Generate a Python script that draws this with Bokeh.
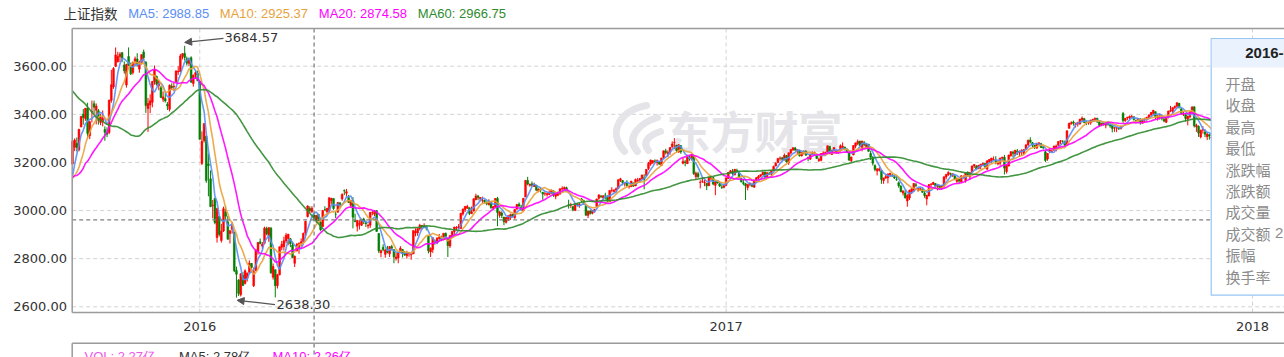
import numpy as np
import pandas as pd
from bokeh.plotting import figure
from bokeh.models import Range1d, Arrow, NormalHead, ColumnDataSource
from bokeh.core.properties import value
from bokeh.embed import file_html
from bokeh.resources import INLINE

# ---------------- data ----------------
trade_days = {
    "2015-10": [12, 13, 14, 15, 16, 19, 20, 21, 22, 23, 26, 27, 28, 29, 30],
    "2015-11": [2, 3, 4, 5, 6, 9, 10, 11, 12, 13, 16, 17, 18, 19, 20, 23, 24, 25, 26, 27, 30],
    "2015-12": [1, 2, 3, 4, 7, 8, 9, 10, 11, 14, 15, 16, 17, 18, 21, 22, 23, 24, 25, 28, 29, 30, 31],
    "2016-01": [4, 5, 6, 7, 8, 11, 12, 13, 14, 15, 18, 19, 20, 21, 22, 25, 26, 27, 28, 29],
    "2016-02": [1, 2, 3, 4, 5, 15, 16, 17, 18, 19, 22, 23, 24, 25, 26, 29],
    "2016-03": [1, 2, 3, 4, 7, 8, 9, 10, 11, 14, 15, 16, 17, 18, 21, 22, 23, 24, 25, 28, 29, 30, 31],
    "2016-04": [1, 5, 6, 7, 8, 11, 12, 13, 14, 15, 18, 19, 20, 21, 22, 25, 26, 27, 28, 29],
    "2016-05": [3, 4, 5, 6, 9, 10, 11, 12, 13, 16, 17, 18, 19, 20, 23, 24, 25, 26, 27, 30, 31],
    "2016-06": [1, 2, 3, 6, 7, 8, 13, 14, 15, 16, 17, 20, 21, 22, 23, 24, 27, 28, 29, 30],
    "2016-07": [1, 4, 5, 6, 7, 8, 11, 12, 13, 14, 15, 18, 19, 20, 21, 22, 25, 26, 27, 28, 29],
    "2016-08": [1, 2, 3, 4, 5, 8, 9, 10, 11, 12, 15, 16, 17, 18, 19, 22, 23, 24, 25, 26, 29, 30, 31],
    "2016-09": [1, 2, 5, 6, 7, 8, 9, 12, 13, 14, 19, 20, 21, 22, 23, 26, 27, 28, 29, 30],
    "2016-10": [10, 11, 12, 13, 14, 17, 18, 19, 20, 21, 24, 25, 26, 27, 28, 31],
    "2016-11": [1, 2, 3, 4, 7, 8, 9, 10, 11, 14, 15, 16, 17, 18, 21, 22, 23, 24, 25, 28, 29, 30],
    "2016-12": [1, 2, 5, 6, 7, 8, 9, 12, 13, 14, 15, 16, 19, 20, 21, 22, 23, 26, 27, 28, 29, 30],
    "2017-01": [3, 4, 5, 6, 9, 10, 11, 12, 13, 16, 17, 18, 19, 20, 23, 24, 25, 26],
    "2017-02": [3, 6, 7, 8, 9, 10, 13, 14, 15, 16, 17, 20, 21, 22, 23, 24, 27, 28],
    "2017-03": [1, 2, 3, 6, 7, 8, 9, 10, 13, 14, 15, 16, 17, 20, 21, 22, 23, 24, 27, 28, 29, 30, 31],
    "2017-04": [5, 6, 7, 10, 11, 12, 13, 14, 17, 18, 19, 20, 21, 24, 25, 26, 27, 28],
    "2017-05": [2, 3, 4, 5, 8, 9, 10, 11, 12, 15, 16, 17, 18, 19, 22, 23, 24, 25, 26, 31],
    "2017-06": [1, 2, 5, 6, 7, 8, 9, 12, 13, 14, 15, 16, 19, 20, 21, 22, 23, 26, 27, 28, 29, 30],
    "2017-07": [3, 4, 5, 6, 7, 10, 11, 12, 13, 14, 17, 18, 19, 20, 21, 24, 25, 26, 27, 28, 31],
    "2017-08": [1, 2, 3, 4, 7, 8, 9, 10, 11, 14, 15, 16, 17, 18, 21, 22, 23, 24, 25, 28, 29, 30, 31],
    "2017-09": [1, 4, 5, 6, 7, 8, 11, 12, 13, 14, 15, 18, 19, 20, 21, 22, 25, 26, 27, 28, 29],
    "2017-10": [9, 10, 11, 12, 13, 16, 17, 18, 19, 20, 23, 24, 25, 26, 27, 30, 31],
    "2017-11": [1, 2, 3, 6, 7, 8, 9, 10, 13, 14, 15, 16, 17, 20, 21, 22, 23, 24, 27, 28, 29, 30],
    "2017-12": [1, 4, 5, 6, 7, 8, 11, 12, 13, 14, 15, 18, 19, 20, 21, 22, 25, 26, 27, 28, 29],
    "2018-01": [2, 3, 4, 5, 8, 9, 10, 11, 12, 15, 16],
}

# closes before the first visible day (only used to seed the moving averages)
seed_close = [
    3877.80, 3970.39, 3924.49, 3805.70, 3823.18, 3957.35, 3992.11, 4017.67, 4026.04, 4123.92, 4070.91, 3725.56, 3663.00, 3789.17, 3705.77, 3663.73,
    3622.91, 3756.54, 3694.57, 3661.54, 3744.20, 3928.42, 3927.91, 3886.32, 3954.56, 3965.34, 3993.67, 3748.16, 3794.11, 3664.29, 3507.74, 3209.91, 2964.97, 2927.29, 3083.59, 3232.35, 3205.99,
    3166.62, 3160.17, 3080.42, 3170.45, 3243.09, 3197.89, 3200.23, 3114.80, 3005.17, 3152.26, 3086.06, 3097.92, 3156.54, 3185.62, 3115.89, 3142.69, 3092.35, 3100.76, 3038.14, 3052.78,
    3143.36, 3183.15,
]

opens = [
    # 2015-10
    3193, 3263, 3279, 3253, 3347, 3400, 3383, 3426, 3311, 3410, 3444, 3417, 3415, 3366, 3370,
    # 2015-11
    3337, 3325, 3325, 3458, 3514, 3600, 3618, 3640, 3656, 3605, 3522, 3640, 3604, 3574, 3620, 3630, 3588, 3614, 3659, 3616, 3424,
    # 2015-12
    3439, 3450, 3536, 3557, 3519, 3510, 3463, 3465, 3442, 3421, 3517, 3514, 3535, 3576, 3578, 3641, 3653, 3631, 3612, 3635, 3528, 3566, 3570,
    # 2016-01
    3536, 3196, 3291, 3309, 3194, 3132, 3021, 3051, 2888, 2975, 2876, 2915, 2993, 2953, 2905, 2922, 2911, 2751, 2711, 2650,
    # 2016-02
    2730, 2697, 2719, 2743, 2780, 2688, 2750, 2831, 2870, 2852, 2864, 2925, 2895, 2926, 2723, 2754,
    # 2016-03
    2688, 2733, 2848, 2850, 2874, 2884, 2883, 2857, 2781, 2833, 2845, 2863, 2871, 2907, 2975, 3009, 2995, 2982, 2959, 2985, 2952, 2933, 3004,
    # 2016-04
    2995, 2999, 3042, 3050, 2985, 2993, 3032, 3048, 3083, 3072, 3054, 3022, 3041, 2958, 2935, 2943, 2939, 2965, 2949, 2936,
    # 2016-05
    2939, 2991, 2985, 2999, 2905, 2825, 2847, 2818, 2833, 2820, 2850, 2837, 2801, 2803, 2827, 2838, 2825, 2812, 2821, 2816, 2820,
    # 2016-06
    2907, 2907, 2924, 2938, 2933, 2933, 2893, 2828, 2838, 2873, 2865, 2884, 2887, 2880, 2905, 2883, 2853, 2890, 2912, 2927,
    # 2016-07
    2927, 2925, 2986, 3004, 3010, 3012, 2987, 2999, 3045, 3060, 3049, 3043, 3043, 3034, 3024, 3038, 3010, 3015, 3050, 2980, 2990,
    # 2016-08
    2973, 2951, 2960, 2970, 2985, 2970, 3006, 3026, 3015, 2999, 3056, 3125, 3105, 3111, 3100, 3106, 3080, 3090, 3076, 3070, 3067, 3067, 3073,
    # 2016-09
    3081, 3059, 3064, 3070, 3090, 3089, 3095, 3024, 3023, 3016, 3000, 3026, 3020, 3048, 3041, 3021, 2980, 2998, 2989, 2999,
    # 2016-10
    3017, 3051, 3060, 3053, 3064, 3059, 3037, 3084, 3079, 3085, 3092, 3126, 3125, 3112, 3113, 3099,
    # 2016-11
    3099, 3115, 3102, 3122, 3124, 3133, 3136, 3146, 3175, 3193, 3200, 3206, 3199, 3201, 3187, 3220, 3248, 3237, 3242, 3266, 3282, 3272,
    # 2016-12
    3243, 3270, 3197, 3202, 3195, 3220, 3214, 3229, 3141, 3153, 3117, 3122, 3116, 3113, 3103, 3135, 3137, 3105, 3122, 3111, 3098, 3097,
    # 2017-01
    3105, 3133, 3157, 3163, 3148, 3167, 3155, 3133, 3116, 3111, 3096, 3108, 3108, 3097, 3121, 3135, 3143, 3149,
    # 2017-02
    3159, 3142, 3155, 3151, 3168, 3185, 3199, 3216, 3220, 3211, 3228, 3198, 3239, 3252, 3260, 3249, 3251, 3227,
    # 2017-03
    3240, 3246, 3221, 3214, 3233, 3238, 3231, 3208, 3209, 3236, 3234, 3243, 3267, 3233, 3250, 3240, 3244, 3248, 3262, 3264, 3252, 3240, 3207,
    # 2017-04
    3231, 3268, 3279, 3289, 3260, 3282, 3265, 3276, 3237, 3219, 3187, 3165, 3168, 3166, 3125, 3135, 3136, 3149,
    # 2017-05
    3147, 3141, 3128, 3116, 3101, 3073, 3073, 3040, 3052, 3076, 3083, 3107, 3085, 3088, 3089, 3072, 3048, 3061, 3109, 3109,
    # 2017-06
    3112, 3100, 3101, 3091, 3101, 3139, 3148, 3155, 3146, 3144, 3121, 3130, 3119, 3139, 3125, 3159, 3140, 3162, 3185, 3184, 3174, 3183,
    # 2017-07
    3190, 3195, 3172, 3202, 3207, 3212, 3209, 3194, 3197, 3218, 3221, 3162, 3185, 3228, 3242, 3234, 3247, 3239, 3246, 3237, 3255,
    # 2017-08
    3273, 3293, 3282, 3271, 3259, 3276, 3278, 3264, 3244, 3214, 3245, 3246, 3251, 3255, 3271, 3288, 3288, 3285, 3273, 3342, 3361, 3368, 3358,
    # 2017-09
    3360, 3360, 3377, 3382, 3366, 3364, 3365, 3377, 3378, 3384, 3368, 3357, 3364, 3355, 3366, 3357, 3355, 3343, 3343, 3344, 3341,
    # 2017-10
    3403, 3373, 3385, 3385, 3388, 3390, 3374, 3372, 3379, 3363, 3379, 3380, 3386, 3397, 3404, 3411, 3385,
    # 2017-11
    3395, 3396, 3380, 3367, 3389, 3414, 3413, 3428, 3434, 3446, 3423, 3399, 3398, 3380, 3389, 3412, 3431, 3348, 3350, 3306, 3334, 3327,
    # 2017-12
    3307, 3315, 3302,
]

highs = [
    3318, 3300, 3304, 3339, 3393, 3422, 3425, 3448, 3373, 3457, 3457, 3445, 3422, 3402, 3416,
    3350, 3346, 3459, 3585, 3596, 3678, 3660, 3658, 3659, 3620, 3610, 3678, 3615, 3618, 3640, 3654, 3623, 3649, 3669, 3621, 3468,
    3483, 3538, 3603, 3561, 3543, 3518, 3495, 3489, 3451, 3524, 3529, 3531, 3583, 3600, 3651, 3654, 3684.57, 3640, 3635, 3641, 3564, 3581, 3581,
    3538, 3329, 3362, 3309, 3236, 3167, 3044, 3052, 3011, 2977, 2945, 3016, 3019, 2978, 2917, 2952, 2911, 2767, 2715, 2739,
    2744, 2756, 2743, 2793, 2782, 2763, 2837, 2869, 2884, 2869, 2933, 2933, 2931, 2932, 2780, 2754,
    2737, 2850, 2874, 2891, 2907, 2903, 2886, 2869, 2813, 2865, 2867, 2884, 2909, 2957, 3022, 3018, 3018, 2984, 2982, 2985, 2960, 3001, 3018,
    3010, 3054, 3053, 3050, 2997, 3034, 3034, 3072, 3088, 3090, 3065, 3043, 3056, 2987, 2960, 2960, 2965, 2970, 2958, 2945,
    2993, 2999, 3002, 3002, 2905, 2838, 2860, 2841, 2853, 2851, 2858, 2839, 2823, 2826, 2852, 2840, 2832, 2833, 2826, 2824, 2917,
    2926, 2926, 2945, 2940, 2947, 2932, 2894, 2847, 2888, 2879, 2889, 2903, 2896, 2906, 2909, 2883, 2898, 2913, 2932, 2935,
    2944, 2990, 3008, 3018, 3024, 3012, 3017, 3050, 3070, 3065, 3056, 3058, 3045, 3038, 3047, 3039, 3019, 3051, 3057, 2998, 2997,
    2973, 2973, 2980, 2987, 2986, 3005, 3027, 3034, 3024, 3051, 3127, 3140, 3112, 3121, 3116, 3106, 3092, 3094, 3077, 3079, 3074, 3084, 3087,
    3085, 3071, 3078, 3091, 3101, 3100, 3099, 3045, 3032, 3019, 3028, 3030, 3031, 3052, 3045, 3024, 3000, 3002, 3002, 3006,
    3049, 3066, 3065, 3063, 3074, 3063, 3084, 3097, 3089, 3096, 3129, 3136, 3126, 3119, 3126, 3105,
    3123, 3116, 3133, 3136, 3134, 3149, 3151, 3172, 3202, 3211, 3210, 3213, 3212, 3206, 3219, 3249, 3257, 3250, 3263, 3288, 3301, 3272,
    3276, 3271, 3219, 3210, 3223, 3227, 3236, 3232, 3162, 3161, 3126, 3138, 3128, 3114, 3139, 3143, 3140, 3123, 3125, 3116, 3107, 3109,
    3136, 3160, 3168, 3173, 3173, 3174, 3163, 3134, 3131, 3115, 3109, 3118, 3114, 3124, 3139, 3147, 3150, 3162,
    3161, 3159, 3160, 3167, 3187, 3201, 3217, 3225, 3221, 3237, 3231, 3240, 3255, 3262, 3265, 3255, 3253, 3243,
    3250, 3251, 3224, 3236, 3245, 3245, 3234, 3220, 3238, 3246, 3245, 3270, 3268, 3252, 3263, 3251, 3254, 3275, 3283, 3265, 3259, 3241, 3224,
    3271, 3283, 3295, 3289, 3290, 3289, 3278, 3276, 3249, 3227, 3192, 3176, 3180, 3168, 3137, 3150, 3154, 3157,
    3152, 3147, 3144, 3121, 3106, 3085, 3085, 3068, 3087, 3092, 3114, 3115, 3095, 3095, 3095, 3081, 3065, 3109, 3114, 3119,
    3114, 3108, 3104, 3106, 3141, 3152, 3163, 3157, 3154, 3149, 3138, 3133, 3146, 3146, 3157, 3163, 3159, 3187, 3193, 3189, 3189, 3194,
    3200, 3198, 3208, 3214, 3219, 3225, 3226, 3207, 3219, 3223, 3231, 3190, 3232, 3246, 3249, 3252, 3256, 3249, 3255, 3255, 3274,
    3294, 3305, 3285, 3273, 3280, 3283, 3281, 3270, 3248, 3239, 3253, 3259, 3269, 3274, 3288, 3292, 3292, 3291, 3333, 3365, 3371, 3374, 3365,
    3368, 3381, 3391, 3385, 3374, 3371, 3377, 3380, 3386, 3385, 3373, 3364, 3367, 3367, 3371, 3361, 3357, 3347, 3347, 3346, 3351,
    3410, 3385, 3389, 3395, 3397, 3391, 3378, 3384, 3384, 3381, 3386, 3389, 3400, 3410, 3418, 3412, 3396,
    3404, 3398, 3387, 3390, 3415, 3435, 3429, 3437, 3450, 3447, 3424, 3411, 3405, 3394, 3412, 3433, 3433, 3361, 3354, 3336, 3351, 3338,
    3325, 3319, 3320,
]

lows = [
    3192, 3247, 3245, 3246, 3347, 3357, 3373, 3300, 3297, 3367, 3402, 3358, 3357, 3355, 3350,
    3290, 3305, 3318, 3448, 3506, 3596, 3616, 3617, 3617, 3569, 3511, 3600, 3563, 3565, 3600, 3598, 3573, 3607, 3625, 3406, 3327,
    3405, 3429, 3523, 3519, 3500, 3469, 3451, 3449, 3418, 3412, 3501, 3497, 3535, 3564, 3575, 3628, 3623, 3603, 3600, 3532, 3515, 3548, 3539,
    3295, 3189, 3283, 3115, 3059, 3014, 2968, 2943, 2867, 2892, 2867, 2911, 2961, 2880, 2863, 2904, 2744, 2638.30, 2645, 2643,
    2686, 2693, 2705, 2738, 2750, 2682, 2750, 2817, 2860, 2840, 2860, 2897, 2870, 2737, 2713, 2638.96,
    2676, 2731, 2835, 2834, 2864, 2856, 2848, 2804, 2765, 2830, 2820, 2851, 2860, 2896, 2971, 2989, 2990, 2959, 2949, 2956, 2916, 2933, 2998,
    2984, 2993, 3028, 3003, 2969, 2993, 3011, 3041, 3064, 3058, 3033, 3014, 2926, 2953, 2913, 2921, 2936, 2944, 2932, 2925,
    2928, 2980, 2977, 2913, 2823, 2806, 2831, 2804, 2822, 2807, 2834, 2781, 2792, 2781, 2824, 2805, 2812, 2800, 2808, 2796, 2820,
    2893, 2895, 2917, 2920, 2928, 2918, 2822, 2807, 2824, 2858, 2860, 2877, 2873, 2876, 2887, 2807, 2845, 2887, 2898, 2917,
    2925, 2925, 2979, 2994, 3007, 2981, 2987, 2995, 3043, 3043, 3038, 3032, 3030, 3022, 3022, 3007, 3003, 3010, 2935, 2970, 2969,
    2939, 2946, 2958, 2961, 2974, 2966, 3004, 3016, 3001, 2997, 3056, 3105, 3099, 3100, 3098, 3082, 3076, 3075, 3045, 3061, 3058, 3064, 3068,
    3057, 3047, 3060, 3065, 3085, 3085, 3078, 3008, 3011, 2997, 2999, 3018, 3012, 3035, 3024, 2979, 2969, 2983, 2984, 2991,
    3017, 3045, 3052, 3046, 3046, 3036, 3037, 3075, 3075, 3076, 3091, 3119, 3105, 3100, 3099, 3091,
    3099, 3098, 3102, 3117, 3119, 3128, 3088, 3142, 3168, 3186, 3193, 3198, 3187, 3191, 3185, 3216, 3233, 3222, 3232, 3260, 3256, 3243,
    3240, 3236, 3192, 3184, 3194, 3207, 3208, 3148, 3128, 3136, 3092, 3115, 3101, 3085, 3103, 3127, 3105, 3064, 3112, 3098, 3090, 3092,
    3102, 3131, 3156, 3147, 3147, 3159, 3136, 3117, 3105, 3044, 3084, 3101, 3097, 3095, 3118, 3129, 3138, 3147,
    3135, 3137, 3148, 3141, 3165, 3184, 3198, 3207, 3205, 3208, 3200, 3190, 3232, 3248, 3246, 3233, 3224, 3225,
    3233, 3229, 3205, 3210, 3232, 3227, 3214, 3202, 3205, 3229, 3230, 3243, 3235, 3231, 3245, 3236, 3236, 3246, 3254, 3251, 3240, 3206, 3200,
    3230, 3259, 3272, 3266, 3246, 3268, 3260, 3245, 3210, 3187, 3163, 3146, 3162, 3111, 3111, 3132, 3113, 3143,
    3140, 3131, 3124, 3095, 3076, 3063, 3050, 3016, 3044, 3069, 3077, 3098, 3078, 3081, 3074, 3053, 3022, 3059, 3098, 3106,
    3093, 3084, 3086, 3090, 3095, 3130, 3144, 3140, 3140, 3128, 3115, 3114, 3119, 3133, 3116, 3144, 3128, 3156, 3177, 3171, 3172, 3172,
    3186, 3176, 3170, 3197, 3198, 3209, 3192, 3188, 3187, 3208, 3150, 3154, 3183, 3224, 3221, 3227, 3231, 3225, 3227, 3231, 3252,
    3269, 3279, 3263, 3256, 3258, 3272, 3260, 3254, 3202, 3207, 3238, 3241, 3249, 3246, 3268, 3277, 3281, 3270, 3270, 3340, 3357, 3353, 3345,
    3349, 3357, 3367, 3363, 3355, 3357, 3357, 3368, 3370, 3364, 3349, 3351, 3353, 3342, 3353, 3344, 3325, 3327, 3326, 3335, 3337,
    3365, 3369, 3376, 3380, 3383, 3374, 3362, 3370, 3357, 3362, 3366, 3373, 3379, 3393, 3396, 3380, 3374,
    3378, 3375, 3367, 3364, 3383, 3409, 3405, 3422, 3425, 3424, 3399, 3393, 3370, 3354, 3383, 3403, 3345, 3327, 3306, 3300, 3320, 3305,
    3293, 3295, 3288,
]

closes = [
    3287.66, 3293.23, 3262.44, 3338.07, 3391.35, 3386.70, 3425.33, 3320.68, 3368.74, 3412.43, 3429.58, 3434.34, 3375.20, 3387.32, 3382.56,
    3325.08, 3316.70, 3459.64, 3522.82, 3590.03, 3646.88, 3640.49, 3650.25, 3632.90, 3580.84, 3606.96, 3604.80, 3568.47, 3617.06, 3630.50, 3610.31, 3616.11, 3647.93, 3635.55, 3436.30, 3445.40,
    3456.31, 3536.91, 3584.82, 3524.99, 3536.93, 3470.07, 3472.44, 3455.50, 3434.58, 3520.67, 3510.35, 3516.19, 3580.00, 3578.96, 3642.47, 3651.77, 3636.09, 3612.49, 3627.91, 3533.78, 3563.74, 3572.88, 3539.18,
    3296.26, 3287.71, 3361.84, 3125.00, 3186.41, 3016.70, 3022.86, 2949.60, 3007.65, 2900.97, 2913.84, 3007.74, 2976.69, 2880.48, 2916.56, 2938.51, 2749.79, 2735.56, 2655.66, 2737.60,
    2688.85, 2749.57, 2739.25, 2781.02, 2763.49, 2746.20, 2836.57, 2867.34, 2862.89, 2860.02, 2927.18, 2903.33, 2928.90, 2741.25, 2767.21, 2687.98,
    2733.17, 2849.68, 2859.76, 2874.15, 2897.34, 2901.39, 2862.56, 2804.73, 2810.31, 2859.50, 2864.37, 2870.43, 2904.83, 2955.15, 3018.80, 2999.36, 3009.96, 2960.97, 2979.43, 2957.82, 2919.83, 3000.65, 3003.92,
    3009.53, 3053.07, 3050.59, 3008.42, 2984.96, 3033.96, 3023.65, 3066.64, 3082.36, 3078.12, 3033.66, 3042.82, 2972.58, 2953.67, 2959.24, 2946.67, 2964.70, 2953.51, 2945.59, 2938.32,
    2992.64, 2991.27, 2997.84, 2913.25, 2832.11, 2832.59, 2837.04, 2835.86, 2827.11, 2850.86, 2843.68, 2807.51, 2806.91, 2825.48, 2843.65, 2821.67, 2815.09, 2822.44, 2821.05, 2822.45, 2916.62,
    2913.51, 2925.23, 2938.68, 2934.10, 2936.04, 2927.16, 2833.07, 2842.19, 2887.21, 2872.82, 2885.11, 2888.81, 2878.56, 2905.55, 2891.96, 2854.29, 2895.70, 2912.56, 2931.59, 2929.61,
    2932.48, 2988.60, 3006.39, 3017.29, 3016.85, 2988.09, 2994.92, 3049.38, 3060.69, 3054.02, 3054.30, 3043.56, 3036.60, 3027.90, 3039.01, 3012.82, 3015.83, 3050.17, 2992.00, 2994.32, 2979.34,
    2953.39, 2971.28, 2978.46, 2982.43, 2976.70, 3004.28, 3025.68, 3018.75, 3002.64, 3050.67, 3125.20, 3110.04, 3109.55, 3104.11, 3108.10, 3084.81, 3089.71, 3085.88, 3068.33, 3070.31, 3070.03, 3074.68, 3085.49,
    3063.31, 3067.35, 3072.10, 3090.71, 3091.93, 3095.95, 3078.85, 3021.98, 3023.51, 3002.85, 3026.05, 3023.00, 3025.87, 3042.31, 3033.90, 2980.43, 2998.17, 2987.86, 2998.48, 3004.70,
    3048.14, 3065.25, 3058.50, 3061.35, 3063.81, 3041.17, 3083.88, 3084.72, 3084.46, 3090.94, 3128.21, 3131.94, 3116.31, 3112.35, 3104.27, 3100.49,
    3122.44, 3102.71, 3128.94, 3125.32, 3133.33, 3147.89, 3128.37, 3171.28, 3196.04, 3210.37, 3206.99, 3205.06, 3208.45, 3192.86, 3218.15, 3248.35, 3241.14, 3241.74, 3261.94, 3277.00, 3282.92, 3250.03,
    3273.31, 3243.84, 3204.71, 3199.65, 3222.24, 3215.37, 3232.88, 3152.97, 3155.04, 3140.53, 3117.68, 3122.98, 3118.08, 3102.88, 3137.43, 3139.56, 3110.15, 3122.57, 3114.66, 3102.24, 3096.10, 3103.64,
    3135.92, 3158.79, 3165.41, 3154.32, 3171.24, 3161.67, 3136.75, 3119.29, 3112.76, 3103.43, 3108.77, 3113.01, 3101.30, 3123.14, 3136.77, 3142.55, 3149.55, 3159.17,
    3140.17, 3156.98, 3153.09, 3166.98, 3183.18, 3196.70, 3216.84, 3217.93, 3212.99, 3229.62, 3202.08, 3239.96, 3253.33, 3261.22, 3251.38, 3253.43, 3228.66, 3241.73,
    3246.93, 3230.03, 3218.31, 3233.87, 3242.41, 3240.66, 3216.75, 3212.76, 3237.02, 3239.33, 3241.76, 3268.94, 3237.45, 3250.81, 3261.61, 3245.22, 3248.55, 3269.45, 3266.96, 3252.95, 3241.31, 3210.24, 3222.51,
    3270.30, 3281.00, 3286.62, 3269.39, 3288.97, 3273.83, 3275.96, 3246.07, 3222.17, 3196.71, 3170.69, 3172.96, 3173.15, 3129.53, 3134.57, 3140.85, 3152.19, 3154.66,
    3143.71, 3135.35, 3127.37, 3103.04, 3078.61, 3080.53, 3052.79, 3061.50, 3083.51, 3090.23, 3112.96, 3104.44, 3090.14, 3090.63, 3075.68, 3061.95, 3064.08, 3107.83, 3110.06, 3117.18,
    3102.62, 3105.54, 3091.66, 3102.10, 3140.32, 3150.33, 3158.40, 3153.74, 3153.05, 3130.67, 3132.49, 3123.17, 3144.37, 3140.01, 3156.21, 3147.45, 3157.87, 3185.44, 3191.20, 3173.20, 3188.06, 3192.43,
    3195.91, 3182.56, 3207.13, 3212.44, 3217.96, 3212.63, 3203.04, 3197.54, 3218.16, 3222.42, 3176.46, 3187.57, 3230.98, 3244.86, 3237.98, 3250.60, 3243.69, 3247.67, 3249.78, 3253.24, 3273.03,
    3292.64, 3285.06, 3272.93, 3262.08, 3279.46, 3281.87, 3261.75, 3261.75, 3208.54, 3237.36, 3251.26, 3246.45, 3268.43, 3268.72, 3286.91, 3290.23, 3287.71, 3271.51, 3331.52, 3362.65, 3365.23, 3363.63, 3360.81,
    3367.12, 3379.58, 3384.32, 3366.00, 3365.50, 3365.24, 3376.42, 3379.49, 3384.15, 3371.43, 3353.62, 3362.86, 3356.84, 3366.22, 3357.81, 3352.53, 3341.55, 3343.58, 3345.27, 3339.64, 3348.94,
    3374.38, 3382.99, 3388.28, 3390.52, 3390.81, 3378.47, 3372.04, 3381.79, 3370.17, 3378.65, 3380.70, 3388.25, 3396.90, 3407.57, 3416.81, 3390.34, 3393.34,
    3395.91, 3383.31, 3371.74, 3388.17, 3413.57, 3415.46, 3427.79, 3432.67, 3447.84, 3429.55, 3402.52, 3399.25, 3382.91, 3392.40, 3410.50, 3430.46, 3351.92, 3353.82, 3322.23, 3333.66, 3337.86, 3317.19,
    3317.62, 3309.62, 3303.68,
]

title_text = "上证指数"
ma_periods = [5, 10, 20, 60]
ma_header = ["MA5: 2988.85", "MA10: 2925.37", "MA20: 2874.58", "MA60: 2966.75"]
ma_colors = ["#5a8ef5", "#e9a23b", "#ff00ff", "#2e8b2e"]
y_ticks = [2600, 2800, 3000, 3200, 3400, 3600]
cursor_date = "2016-03-24"
tip_rows = ["开盘", "收盘", "最高", "最低", "涨跌幅", "涨跌额", "成交量", "成交额", "振幅", "换手率"]
tip_partial_value = "2"   # only visible start of the 成交额 value
vol_header = ["VOL: 2.27亿", "MA5: 2.78亿", "MA10: 2.26亿"]
vol_colors = ["#ee55ee", "#333333", "#ff00ff"]
watermark = "东方财富"

# ---------------- derived ----------------
dates = [f"{ym}-{d:02d}" for ym, ds in trade_days.items() for d in ds]
n = len(closes)
assert len(opens) == n and len(highs) == n and len(lows) == n, (len(opens), len(highs), len(lows), n)
o = np.array(opens, float); c = np.array(closes, float)
h = np.maximum(np.array(highs, float), np.maximum(o, c))
l = np.minimum(np.array(lows, float), np.minimum(o, c))
xi = np.arange(n)

full = pd.Series(seed_close + closes, dtype=float)
mas = [full.rolling(k).mean().to_numpy()[len(seed_close):] for k in ma_periods]

year_idx = [i for i in range(1, len(dates)) if dates[i][:4] != dates[i - 1][:4]]
year_lab = [dates[i][:4] for i in year_idx]
ci = dates.index(cursor_date)
imax = int(np.argmax(h)); imin = int(np.argmin(l))

# ---------------- layout (page pixel -> data) ----------------
W, H = 1284, 357
ORG_X, ORG_Y = 0, 0             # canvas origin on the page
PX0, DX = 72.0, 2.1572          # page x of first candle, px per trading day
PY_REF, V_REF, PY200 = 65.7, 3600.0, 48.12
def X(px): return (px - PX0) / DX
def Y(py): return V_REF - (py - PY_REF) * 200.0 / PY200
def dY(dpy): return dpy * 200.0 / PY200

LEFT, TOP, BOT, RIGHT = 71.7, 28.0, 312.0, 1290.0

p = figure(width=W, height=H, x_range=Range1d(X(ORG_X), X(ORG_X + W)), y_range=Range1d(Y(ORG_Y + H), Y(ORG_Y)),
           x_axis_type=None, y_axis_type=None, toolbar_location=None, output_backend="svg",
           min_border=0)
p.min_border_left = p.min_border_right = p.min_border_top = p.min_border_bottom = 0
p.outline_line_color = None
p.background_fill_color = "white"
p.border_fill_color = "white"
p.grid.visible = False

CJK = "Noto Sans CJK SC"

# grid
p.segment(x0=[X(LEFT)] * len(y_ticks), y0=y_ticks, x1=[X(RIGHT)] * len(y_ticks), y1=y_ticks,
          line_color="#d2d2d2", line_dash="4 3", line_width=1)
p.segment(x0=year_idx, y0=[Y(BOT)] * len(year_idx), x1=year_idx, y1=[Y(TOP)] * len(year_idx),
          line_color="#d2d2d2", line_dash="4 3", line_width=1)

# watermark
wm_col = "#e4e4e9"
p.bezier(x0=[X(624), X(637), X(648)], y0=[Y(151), Y(151), Y(150)],
         x1=[X(646), X(657), X(660)], y1=[Y(105), Y(117), Y(131)],
         cx0=[X(606), X(624), X(640)], cy0=[Y(131), Y(137), Y(140)],
         cx1=[X(620), X(640), X(651)], cy1=[Y(110), Y(122), Y(134)],
         line_color=wm_col, line_width=7, line_cap="round")
p.text(x=[X(666)], y=[Y(129)], text=[watermark], text_font=value(CJK), text_font_size=value("44px"),
       text_font_style="bold", text_color=wm_col, text_baseline="middle", text_align="left")

# candles
col = np.where(c >= o, "#ff0000", "#008000")
src = ColumnDataSource(dict(x=xi, o=o, h=h, l=l, c=c, top=np.maximum(o, c), bot=np.minimum(o, c), col=col))
p.segment(x0="x", y0="h", x1="x", y1="l", color="col", line_width=1, source=src)
p.vbar(x="x", width=0.8, top="top", bottom="bot", fill_color="col", line_color="col", line_width=0.6, source=src)

# moving averages
for m, cc in zip(mas, ma_colors):
    p.line(xi, m, line_color=cc, line_width=1.6, line_alpha=0.9)

# crosshair
p.segment(x0=[X(LEFT)], y0=[c[ci]], x1=[X(RIGHT)], y1=[c[ci]], line_color="#808080", line_dash="4 3", line_width=1.3)
p.segment(x0=[ci], y0=[Y(TOP)], x1=[ci], y1=[Y(360)], line_color="#808080", line_dash="4 3", line_width=1.3)

# borders
bcol = "#9a9a9a"
p.segment(x0=[X(LEFT), X(LEFT), X(LEFT), X(LEFT), X(LEFT)],
          y0=[Y(TOP), Y(TOP), Y(BOT), Y(342.7), Y(342.7)],
          x1=[X(RIGHT), X(LEFT), X(RIGHT), X(RIGHT), X(LEFT)],
          y1=[Y(TOP), Y(BOT), Y(BOT), Y(342.7), Y(360)],
          line_color=bcol, line_width=1.5)

# y labels
p.text(x=[X(66.5)] * len(y_ticks), y=y_ticks, text=[f"{v:.2f}" for v in y_ticks],
       text_font=value("DejaVu Sans"), text_font_size=value("13px"), text_color="#333333",
       text_align="right", text_baseline="middle")
# x labels
p.text(x=year_idx, y=[Y(326.2)] * len(year_idx), text=year_lab,
       text_font=value("DejaVu Sans"), text_font_size=value("13px"), text_color="#333333",
       text_align="center", text_baseline="middle")

# header
p.text(x=[X(63)], y=[Y(12.8)], text=[title_text], text_font=value(CJK), text_font_size=value("13.5px"),
       text_color="#333333", text_baseline="middle", text_align="left")
hx = [127.7, 219.3, 318.3, 417.3]
p.text(x=[X(v) for v in hx], y=[Y(12.8)] * 4, text=ma_header, text_color=ma_colors,
       text_font=value("Liberation Sans"), text_font_size=value("13px"), text_baseline="middle", text_align="left")

# max / min annotations
p.add_layout(Arrow(end=NormalHead(size=7, fill_color="#555555", line_color="#555555", line_width=1),
                   x_start=imax + (223.0 - (PX0 + imax * DX)) / DX, y_start=h[imax] + dY(45.4 - 38.0),
                   x_end=imax, y_end=h[imax] + dY(3.4), line_color="#555555", line_width=1.2))
p.text(x=[imax + (224.0 - (PX0 + imax * DX)) / DX], y=[h[imax] + dY(45.4 - 37.5)], text=[f"{h[imax]:.2f}"],
       text_font=value("DejaVu Sans"), text_font_size=value("13px"), text_color="#333333",
       text_baseline="middle", text_align="left")
p.add_layout(Arrow(end=NormalHead(size=7, fill_color="#555555", line_color="#555555", line_width=1),
                   x_start=imin + (274.5 - (PX0 + imin * DX)) / DX, y_start=l[imin] - dY(304.0 - 297.0),
                   x_end=imin + 0.3, y_end=l[imin] - dY(2.7), line_color="#555555", line_width=1.2))
p.text(x=[imin + (276.0 - (PX0 + imin * DX)) / DX], y=[l[imin] - dY(303.8 - 297.0)], text=[f"{l[imin]:.2f}"],
       text_font=value("DejaVu Sans"), text_font_size=value("13px"), text_color="#333333",
       text_baseline="middle", text_align="left")

# volume panel header (cut by the window)
vx = [84.0, 178.5, 272.0]
p.text(x=[X(v) for v in vx], y=[Y(355.5)] * 3, text=vol_header, text_color=vol_colors,
       text_font=value("Liberation Sans"), text_font_size=value("13px"), text_baseline="middle", text_align="left")

# tooltip box
p.quad(left=[X(1210.7)], right=[X(1300)], top=[Y(38.0)], bottom=[Y(294.7)],
       fill_color="white", line_color="#98c6f4", line_width=1.2)
p.quad(left=[X(1211.3)], right=[X(1300)], top=[Y(38.6)], bottom=[Y(67.0)],
       fill_color="#e9f2fd", line_color=None)
p.text(x=[X(1244.7)], y=[Y(52.5)], text=[cursor_date], text_font=value("Liberation Sans"),
       text_font_size=value("15px"), text_font_style="bold", text_color="#222222",
       text_baseline="middle", text_align="left")
row_y = [83.0 + 21.4 * k for k in range(len(tip_rows))]
p.text(x=[X(1225.0)] * len(tip_rows), y=[Y(v) for v in row_y], text=tip_rows,
       text_font=value(CJK), text_font_size=value("15px"), text_color="#8c8c8c",
       text_baseline="middle", text_align="left")
p.text(x=[X(1274.5)], y=[Y(row_y[tip_rows.index("成交额")])], text=[tip_partial_value],
       text_font=value("Liberation Sans"), text_font_size=value("15px"), text_color="#8c8c8c",
       text_baseline="middle", text_align="left")

open("out.html", "w").write(file_html(p, INLINE))
